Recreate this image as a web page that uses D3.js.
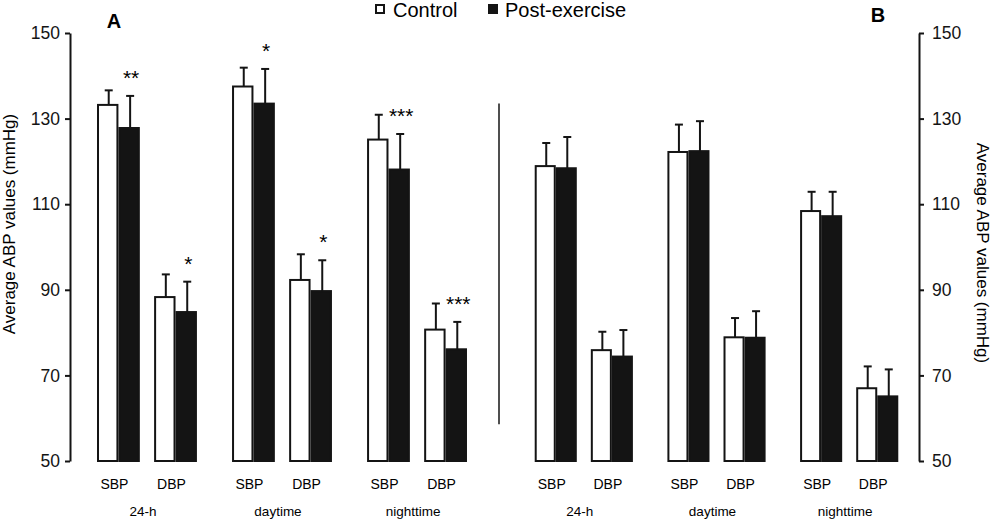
<!DOCTYPE html>
<html>
<head>
<meta charset="utf-8">
<script src="https://cdn.jsdelivr.net/npm/d3@7"></script>
<style>
  body { margin: 0; background: #fff; }
  svg { font-family: "Liberation Sans", Arial, sans-serif; }
</style>
</head>
<body>
<svg id="chart" width="993" height="520"></svg>
<script>
// categories
const groups = ["24-h", "daytime", "nighttime"];
const measures = ["SBP", "DBP"];
const series = ["Control", "Post-exercise"];
const yTicks = [50, 70, 90, 110, 130, 150];

// panel A (order: 24-h SBP, 24-h DBP, daytime SBP, daytime DBP, nighttime SBP, nighttime DBP)
const aControl = [133.2, 88.3, 137.5, 92.3, 125.1, 80.7];
const aControlSD = [3.4, 5.3, 4.4, 6.0, 5.8, 6.1];
const aPost = [127.8, 84.8, 133.5, 89.7, 118.1, 76.1];
const aPostSD = [7.5, 7.1, 8.1, 7.2, 8.3, 6.4];
const aStars = ["**", "*", "*", "*", "***", "***"];

// panel B
const bControl = [118.9, 75.9, 122.2, 78.9, 108.4, 67.0];
const bControlSD = [5.4, 4.3, 6.4, 4.5, 4.5, 5.1];
const bPost = [118.4, 74.4, 122.4, 78.8, 107.2, 65.1];
const bPostSD = [7.3, 6.2, 7.0, 6.2, 5.7, 6.3];

const svg = d3.select('#chart');

const y = d3.scaleLinear().domain([50, 150]).range([461, 33]);

function buildRows(ctrl, ctrlSD, post, postSD, stars) {
    const rows = [];
    groups.forEach((g, gi) => {
        measures.forEach((m, mi) => {
            const i = gi * 2 + mi;
            rows.push({ group: g, measure: m, series: series[0], value: ctrl[i], sd: ctrlSD[i], star: null });
            rows.push({ group: g, measure: m, series: series[1], value: post[i], sd: postSD[i], star: stars ? stars[i] : null });
        });
    });
    return rows;
}

function drawPanel(rows, range) {
    const x0 = d3.scaleBand().domain(groups).range(range)
        .paddingInner(0.26).paddingOuter(0.126);
    const x1 = d3.scaleBand().domain(measures).range([0, x0.bandwidth()])
        .paddingInner(0.25).paddingOuter(0);
    const x2 = d3.scaleBand().domain(series).range([0, x1.bandwidth()]).padding(0);

    const xPos = d => x0(d.group) + x1(d.measure) + x2(d.series);

    const g = svg.append('g');

    g.selectAll('rect')
        .data(rows)
        .enter().append('rect')
        .attr('x', d => xPos(d) + 1)
        .attr('y', d => y(d.value))
        .attr('width', x2.bandwidth() - 2)
        .attr('height', d => y(50) - y(d.value))
        .attr('fill', d => d.series === series[0] ? '#fff' : '#141414')
        .attr('stroke', '#141414')
        .attr('stroke-width', 2);

    // error bars (upper only)
    const err = g.selectAll('g.err')
        .data(rows)
        .enter().append('g')
        .attr('class', 'err')
        .attr('stroke', '#141414')
        .attr('stroke-width', 2);
    err.append('line')
        .attr('x1', d => xPos(d) + x2.bandwidth() / 2 + 1)
        .attr('x2', d => xPos(d) + x2.bandwidth() / 2 + 1)
        .attr('y1', d => y(d.value))
        .attr('y2', d => y(d.value + d.sd));
    err.append('line')
        .attr('x1', d => xPos(d) + x2.bandwidth() / 2 - 3)
        .attr('x2', d => xPos(d) + x2.bandwidth() / 2 + 5)
        .attr('y1', d => y(d.value + d.sd))
        .attr('y2', d => y(d.value + d.sd));

    g.selectAll('text.star')
        .data(rows.filter(d => d.star))
        .enter().append('text')
        .attr('class', 'star')
        .attr('x', d => xPos(d) + x2.bandwidth() / 2 + 2)
        .attr('y', d => y(d.value + d.sd) - 11)
        .attr('text-anchor', 'middle')
        .attr('font-size', 21)
        .text(d => d.star);

    // measure labels
    const mLabels = [];
    groups.forEach(gr => measures.forEach(m => mLabels.push({ group: gr, measure: m })));
    g.selectAll('text.measure')
        .data(mLabels)
        .enter().append('text')
        .attr('class', 'measure')
        .attr('x', d => x0(d.group) + x1(d.measure) + x1.bandwidth() / 2 - 4)
        .attr('y', 489)
        .attr('text-anchor', 'middle')
        .attr('font-size', 14)
        .text(d => d.measure);

    g.selectAll('text.group')
        .data(groups)
        .enter().append('text')
        .attr('class', 'group')
        .attr('x', d => x0(d) + x0.bandwidth() / 2 - 4)
        .attr('y', 516)
        .attr('text-anchor', 'middle')
        .attr('font-size', 13.5)
        .text(d => d);
}

drawPanel(buildRows(aControl, aControlSD, aPost, aPostSD, aStars), [80, 484]);
drawPanel(buildRows(bControl, bControlSD, bPost, bPostSD, null), [518, 915]);

// axes
const leftAxis = svg.append('g')
    .attr('transform', 'translate(70,0)')
    .call(d3.axisLeft(y).tickValues(yTicks).tickSize(5).tickSizeOuter(0).tickPadding(5));
const rightAxis = svg.append('g')
    .attr('transform', 'translate(919,0)')
    .call(d3.axisRight(y).tickValues(yTicks).tickSize(5).tickSizeOuter(0).tickPadding(8));
[leftAxis, rightAxis].forEach(a => {
    a.selectAll('path, line').attr('stroke', '#141414').attr('stroke-width', 2);
    a.selectAll('text').attr('font-size', 17.5).attr('fill', '#141414')
        .attr('font-family', '"Liberation Sans", Arial, sans-serif');
});

svg.append('text')
    .attr('transform', 'translate(15,224) rotate(-90)')
    .attr('text-anchor', 'middle')
    .attr('font-size', 17)
    .text('Average ABP values (mmHg)');
svg.append('text')
    .attr('transform', 'translate(977,253) rotate(90)')
    .attr('text-anchor', 'middle')
    .attr('font-size', 17)
    .text('Average ABP values (mmHg)');

// divider between panels
svg.append('line')
    .attr('x1', 499).attr('x2', 499)
    .attr('y1', y(133.5)).attr('y2', y(58.6))
    .attr('stroke', '#141414').attr('stroke-width', 1.5);

// panel letters
svg.append('text').attr('x', 114).attr('y', 28).attr('text-anchor', 'middle')
    .attr('font-size', 20).attr('font-weight', 'bold').text('A');
svg.append('text').attr('x', 878).attr('y', 22).attr('text-anchor', 'middle')
    .attr('font-size', 20).attr('font-weight', 'bold').text('B');

// legend
const legend = svg.append('g');
const legendX = [375, 488];
series.forEach((s, i) => {
    legend.append('rect')
        .attr('x', legendX[i] + 1).attr('y', 5)
        .attr('width', 8).attr('height', 8)
        .attr('fill', i === 0 ? '#fff' : '#141414')
        .attr('stroke', '#141414').attr('stroke-width', 2);
    legend.append('text')
        .attr('x', legendX[i] + (i === 0 ? 18 : 17)).attr('y', 17)
        .attr('font-size', 20)
        .text(s);
});
</script>
</body>
</html>
